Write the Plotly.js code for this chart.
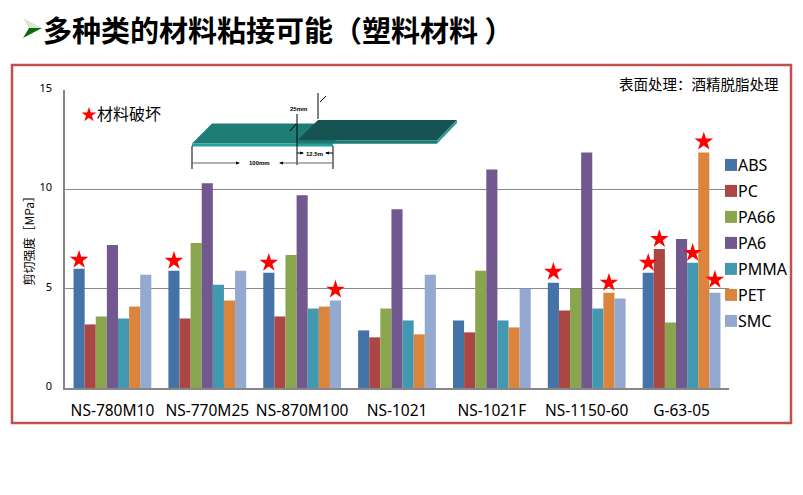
<!DOCTYPE html>
<html><head><meta charset="utf-8">
<script src="https://cdn.plot.ly/plotly-3.0.1.min.js"></script>
<style>html,body{margin:0;padding:0;background:#fff}#c{width:803px;height:495px}
.legendtext{transform:translateX(-13px)}</style></head>
<body><div id="c"></div>
<script>
const categories = ["NS-780M10","NS-770M25","NS-870M100","NS-1021","NS-1021F","NS-1150-60","G-63-05"];
const ABS  = [6.0,5.9,5.8,2.9,3.4,5.3,5.8];
const PC   = [3.2,3.5,3.6,2.55,2.8,3.9,7.0];
const PA66 = [3.6,7.3,6.7,4.0,5.9,5.0,3.3];
const PA6  = [7.2,10.3,9.7,9.0,11.0,11.85,7.5];
const PMMA = [3.5,5.2,4.0,3.4,3.4,4.0,6.3];
const PET  = [4.1,4.4,4.1,2.7,3.05,4.8,11.85];
const SMC  = [5.7,5.9,4.4,5.7,5.0,4.5,4.8];
const seriesNames = ["ABS","PC","PA66","PA6","PMMA","PET","SMC"];
const seriesValues = [ABS,PC,PA66,PA6,PMMA,PET,SMC];
const seriesColors = ["#4572a7","#aa4643","#89a54e","#71588f","#4198af","#db843d","#93a9cf"];
const yTicks = [0,5,10,15];
// material-failure stars: group index, series index, height in MPa
const starGroup  = [0,1,2,2,5,5,6,6,6,6,6];
const starSeries = [0,0,0,6,0,5,0,1,4,5,6];
const starHeight = [6.45,6.4,6.3,4.95,5.85,5.3,6.3,7.5,6.8,12.4,5.45];

const L=65,R=729,T=90,B=388,BARGAP=0.18;
const px=x=>(x-L)/(R-L), py=y=>(B-y)/(B-T);
const poly=(pts,fill,extra)=>Object.assign({type:"path",xref:"paper",yref:"paper",
  path:"M"+pts.map(p=>px(p[0])+" "+py(p[1])).join("L")+"Z",fillcolor:fill,line:{width:0}},extra||{});
const seg=(x0,y0,x1,y1,color,w)=>({type:"line",xref:"paper",yref:"paper",x0:px(x0),y0:py(y0),x1:px(x1),y1:py(y1),
  line:{color:color||"#000",width:w||1}});
const note=(text,x,y,size,opts)=>Object.assign({text,xref:"paper",yref:"paper",x:px(x),y:py(y),showarrow:false,
  font:{size,color:"#000",family:"'Noto Sans CJK SC','Noto Sans',sans-serif"},xanchor:"left",yanchor:"middle"},opts||{});
const tiny={size:6,color:"#000",family:"'Liberation Sans',sans-serif",weight:700};

const barW=(1-BARGAP)/7;
const traces=seriesNames.map((n,i)=>({type:"bar",name:n,x:categories.map((_,k)=>k),y:seriesValues[i],
  marker:{color:seriesColors[i],line:{width:0}},legendgroup:n,hoverinfo:"y+name"}));
traces.push({type:"scatter",mode:"markers",showlegend:false,name:"材料破坏",
  x:starGroup.map((g,i)=>g+(starSeries[i]-3)*barW),y:starHeight,
  marker:{symbol:"star",size:14,color:"#ff0000",line:{width:0}},hoverinfo:"skip"});

const shapes=[
  {type:"rect",xref:"paper",yref:"paper",x0:px(12),y0:py(65),x1:px(791),y1:py(423),line:{color:"#c0504d",width:2.5},layer:"below"},
  poly([[23,18],[42,28],[29,28]],"#d8e8d0"),
  poly([[42,28],[23,38],[29,28]],"#0b6b0b"),
  poly([[192,143.5],[212,123.5],[353,123.5],[333,143.5]],"#1f7d78"),
  poly([[192,143.5],[333,143.5],[333,146.5],[192,146.5]],"#26a09a"),
  poly([[297,140.5],[318,120],[457,120],[437,140.5]],"#165454"),
  poly([[297,140.5],[437,140.5],[437,143.7],[297,143.7]],"#1c7a74"),
  poly([[437,140.5],[457,120],[457,123],[437,143.7]],"#2a9d96"),
  seg(192,146,192,169), seg(333,146,333,169), seg(297,114,297,165),
  seg(318,93,318,119),
  seg(192,163,239,163,"#666",1.2), seg(280,163,333,163,"#666",1.2),
  poly([[240,163],[236,161.5],[236,164.5]],"#000"), poly([[279,163],[283,161.5],[283,164.5]],"#000"),
  seg(297,153,303,153), seg(326,153,333,153),
  poly([[304,153],[300,151.5],[300,154.5]],"#000"), poly([[325,153],[329,151.5],[329,154.5]],"#000"),
  seg(290,131,296,124), seg(326,96,320,102)
];
const annotations=[
  note("多种类的材料粘接可能（塑料材料 ）",41,29,29,{font:{size:29,color:"#000",family:"'Noto Sans CJK SC',sans-serif",weight:700}}),
  note("表面处理：酒精脱脂处理",781,83,14.5,{xanchor:"right"}),
  note("<span style='color:#ff0000'>★</span>材料破坏",79,113,16),
  note("剪切强度［MPa］",28,237.5,12,{textangle:-90,xanchor:"center"}),
  note("25mm",298,109,6,{xanchor:"center",font:tiny}),
  note("12.5m",314,153.5,6,{xanchor:"center",font:tiny}),
  note("100mm",259,163,6,{xanchor:"center",font:tiny})
];
const layout={
  width:803,height:495,paper_bgcolor:"#fff",plot_bgcolor:"#fff",
  margin:{l:L,r:803-R,t:T,b:495-B,pad:0,autoexpand:false},
  barmode:"group",bargap:BARGAP,bargroupgap:0,
  showlegend:true,
  legend:{x:px(711),y:py(148),xanchor:"left",yanchor:"top",traceorder:"grouped",tracegroupgap:2.2,
    font:{size:16,color:"#000",family:"'Noto Sans',sans-serif"},bgcolor:"rgba(0,0,0,0)",itemclick:false,itemdoubleclick:false},
  xaxis:{type:"linear",range:[-0.5,6.5],tickmode:"array",tickvals:categories.map((_,k)=>k),ticktext:categories,automargin:false,
    showgrid:false,zeroline:false,showline:true,linecolor:"#868686",linewidth:1.5,ticks:"",
    ticklabelstandoff:8,tickfont:{size:15.5,color:"#000",family:"'Noto Sans',sans-serif"}},
  yaxis:{range:[0,15],tickmode:"array",tickvals:yTicks,ticktext:yTicks.map(String),showgrid:true,gridcolor:"#8a8a8a",gridwidth:1,automargin:false,
    zeroline:false,showline:true,linecolor:"#868686",linewidth:1.5,ticks:"",ticklabelstandoff:9,ticklabelshift:-2,
    tickfont:{size:11,color:"#000",family:"'Noto Sans',sans-serif"}},
  shapes,annotations
};
Plotly.newPlot("c",traces,layout,{displayModeBar:false,responsive:false});
</script></body></html>
